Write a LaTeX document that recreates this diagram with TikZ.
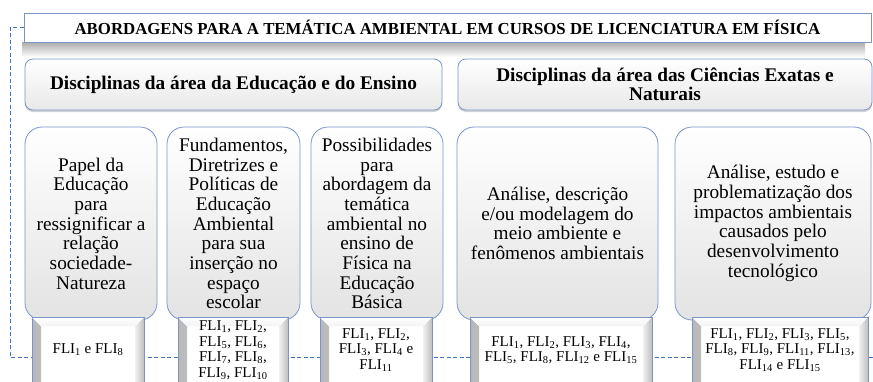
\documentclass[tikz,border=0pt]{standalone}
\usepackage{fontspec}
\setmainfont{Liberation Serif}
\usetikzlibrary{shadows}
\definecolor{bordc}{RGB}{122,150,200}
\definecolor{dashc}{RGB}{68,114,196}
\newcommand{\fli}[1]{FLI\textsubscript{#1}}
\begin{document}
\begin{tikzpicture}[x=1pt,y=-1pt,
  titlebox/.style={draw=bordc, line width=0.8pt, fill=white, minimum width=847pt, minimum height=29pt, inner sep=0pt, font=\bfseries\fontsize{16.8}{18}\selectfont},
  headbox/.style={draw=bordc, line width=0.8pt, rounded corners=8pt, top color=white, bottom color=gray!18, minimum height=51pt, inner sep=0pt, align=center, font=\bfseries\fontsize{19.3}{19}\selectfont, drop shadow={shadow xshift=0pt, shadow yshift=-2pt, opacity=0.35}},
  tallbox/.style={draw=bordc, line width=0.8pt, rounded corners=17pt, top color=white, bottom color=gray!22, minimum height=193pt, inner sep=0pt, align=center, font=\fontsize{19.3}{19.7}\selectfont},
  flibox/.style={draw=bordc, line width=0.8pt, fill=white, minimum height=66pt, inner sep=0pt, align=center, font=\fontsize{15}{15.5}\selectfont,
    path picture={
      \fill[left color=gray!55, right color=gray!12] (path picture bounding box.south west) -- (path picture bounding box.north west) -- ([shift={(9pt,-9pt)}]path picture bounding box.north west) -- ([shift={(9pt,0pt)}]path picture bounding box.south west) -- cycle;
      \fill[left color=gray!12, right color=gray!50] (path picture bounding box.south east) -- (path picture bounding box.north east) -- ([shift={(-9pt,-9pt)}]path picture bounding box.north east) -- ([shift={(-9pt,0pt)}]path picture bounding box.south east) -- cycle;
      \fill[top color=white, bottom color=gray!10] (path picture bounding box.north west) -- (path picture bounding box.north east) -- ([shift={(-9pt,-9pt)}]path picture bounding box.north east) -- ([shift={(9pt,-9pt)}]path picture bounding box.north west) -- cycle;
    }},
  dashline/.style={draw=dashc, line width=1pt, dash pattern=on 4pt off 2.5pt}
]
\clip (0,0) rectangle (873,381);
\fill[white] (0,0) rectangle (873,381);
% shadow under title
\shade[top color=gray!65, bottom color=white] (22,42) rectangle (865,57);
\node[titlebox] (title) at (447.5,27.5) {ABORDAGENS PARA A TEMÁTICA AMBIENTAL EM CURSOS DE LICENCIATURA EM FÍSICA};
% dashed bracket
\coordinate (dcorner) at (10,357);
\coordinate (dend) at (873,357);
\draw[dashline] (title.west) -| (dcorner) -- (dend);
% headers
\node[headbox, minimum width=417pt] (h1) at (233.5,84.5) {Disciplinas da área da Educação e do Ensino};
\node[headbox, minimum width=414pt] (h2) at (665,84.5) {Disciplinas da área das Ciências Exatas e\\Naturais};
% tall boxes
\node[tallbox, minimum width=132pt] (b1) at (91,223.5) {Papel da\\Educação\\para\\ressignificar a\\relação\\sociedade-\\Natureza};
\node[tallbox, minimum width=133pt] (b2) at (233.5,223.5) {Fundamentos,\\Diretrizes e\\Políticas de\\Educação\\Ambiental\\para sua\\inserção no\\espaço\\escolar};
\node[tallbox, minimum width=132pt] (b3) at (377,223.5) {Possibilidades\\para\\abordagem da\\temática\\ambiental no\\ensino de\\Física na\\Educação\\Básica};
\node[tallbox, minimum width=201pt] (b4) at (557.5,223.5) {Análise, descrição\\e/ou modelagem do\\meio ambiente e\\fenômenos ambientais};
\node[tallbox, minimum width=196pt] (b5) at (773,223.5) {Análise, estudo e\\problematização dos\\impactos ambientais\\causados pelo\\desenvolvimento\\tecnológico};
% FLI boxes
\node[flibox, minimum width=112pt] (f1) at (88,350) {\fli{1} e \fli{8}};
\node[flibox, minimum width=110pt] (f2) at (233,350) {\fli{1}, \fli{2},\\\fli{5}, \fli{6},\\\fli{7}, \fli{8},\\\fli{9}, \fli{10}};
\node[flibox, minimum width=112pt] (f3) at (376,350) {\fli{1}, \fli{2},\\\fli{3}, \fli{4} e\\\fli{11}};
\node[flibox, minimum width=182pt] (f4) at (561,350) {\fli{1}, \fli{2}, \fli{3}, \fli{4},\\\fli{5}, \fli{8}, \fli{12} e \fli{15}};
\node[flibox, minimum width=176pt] (f5) at (780,350) {\fli{1}, \fli{2}, \fli{3}, \fli{5},\\\fli{8}, \fli{9}, \fli{11}, \fli{13},\\\fli{14} e \fli{15}};
\end{tikzpicture}
\end{document}
